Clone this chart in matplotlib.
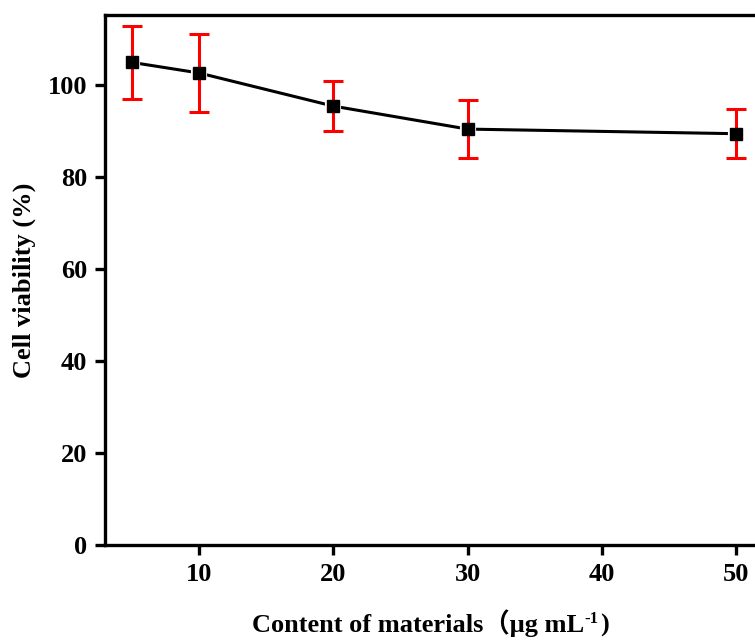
import matplotlib.pyplot as plt

conc = [5, 10, 20, 30, 50]
viability = [104.9, 102.6, 95.4, 90.4, 89.4]
err = [8.0, 8.5, 5.4, 6.3, 5.3]

x_ticks = [10, 20, 30, 40, 50]
y_ticks = [0, 20, 40, 60, 80, 100]

plt.rcParams['font.family'] = ['Liberation Serif', 'Noto Sans CJK SC']
plt.rcParams['font.weight'] = 'bold'

W, H = 755, 641
fig = plt.figure(figsize=(W / 100, H / 100), dpi=100)
ax = fig.add_axes([105 / W, 96 / H, (763 - 105) / W, 530 / H])

# line with a white halo around the markers
ax.plot(conc, viability, color='black', lw=2.2, zorder=2)
ax.plot(conc, viability, ls='none', marker='s', ms=8, mfc='white', mec='white', mew=3, zorder=3)
ax.errorbar(conc, viability, yerr=err, fmt='none', ecolor='red', elinewidth=2.2,
            capsize=7, capthick=2.2, zorder=4)
ax.plot(conc, viability, ls='none', marker='s', ms=8, mfc='black', mec='black', zorder=5)

ax.set_xlim(3, 52)
ax.set_ylim(0, 115.2)
ax.set_xticks(x_ticks)
ax.set_yticks(y_ticks)

for s in ax.spines.values():
    s.set_linewidth(2.4)
ax.tick_params(axis='both', width=2.4, length=7, labelsize=19, pad=6)
for lab in ax.get_xticklabels() + ax.get_yticklabels():
    lab.set_fontweight('bold')

ax.set_ylabel('Cell viability (%)', fontsize=19, fontweight='bold', labelpad=8)

# x label: built from pieces so the fullwidth bracket and superscript both render
fig.canvas.draw()
r = fig.canvas.get_renderer()
base_y = (H - 632) / H
t1 = fig.text(0, base_y, 'Content of materials\uff08\u03bcg mL', fontsize=19,
              fontweight='bold', va='baseline')
t2 = fig.text(0, base_y + 9 / H, '-1', fontsize=12, fontweight='bold', va='baseline')
t3 = fig.text(0, base_y, ')', fontsize=19, fontweight='bold', va='baseline')
w1 = t1.get_window_extent(r).width
w2 = t2.get_window_extent(r).width
w3 = t3.get_window_extent(r).width
x0 = 430 - (w1 + w2 + w3) / 2
t1.set_x(x0 / W)
t2.set_x((x0 + w1) / W)
t3.set_x((x0 + w1 + w2 + 1) / W)

fig.savefig('out.png', dpi=100)
